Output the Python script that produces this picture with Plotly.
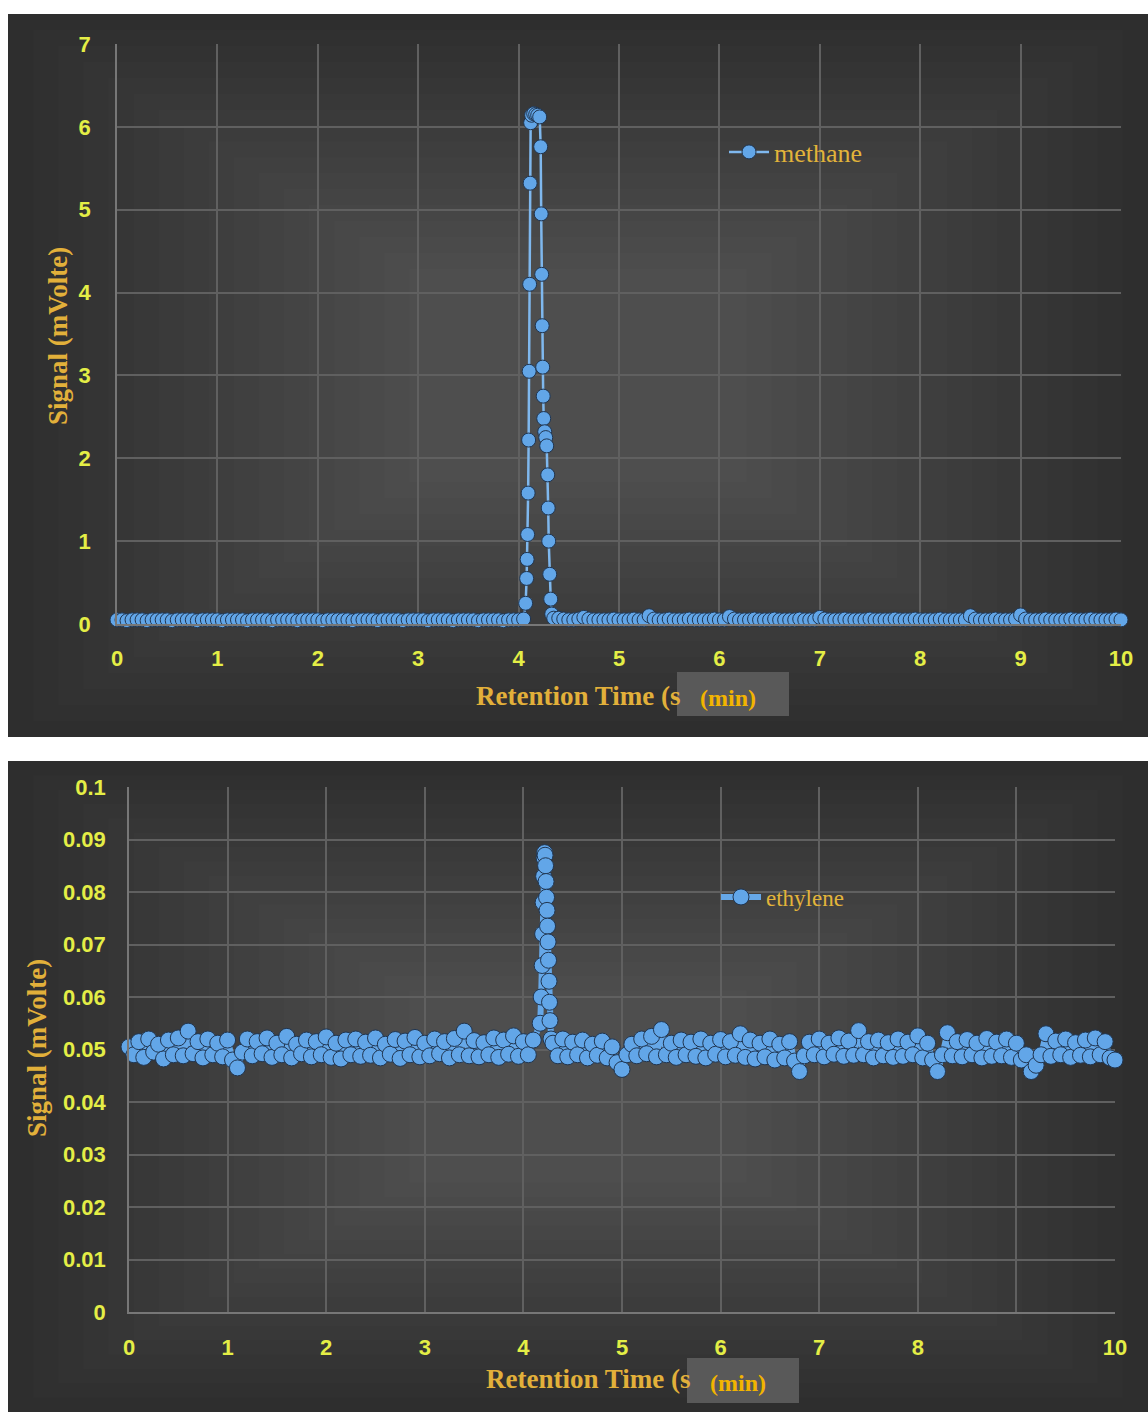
import plotly.graph_objects as go

W, H = 1148, 1412


def px(x):
    return x / W


def py(y):
    return 1 - y / H


# ---------------- data ----------------
methane_time_left = [round(i * 0.05, 2) for i in range(0, 81)]  # 0.00 .. 4.00
methane_signal_left = [
    0.05, 0.05, 0.04, 0.05, 0.05, 0.05, 0.04, 0.05, 0.05,
    0.05, 0.05, 0.04, 0.05, 0.05, 0.05, 0.05, 0.04, 0.05,
    0.05, 0.05, 0.05, 0.04, 0.05, 0.05, 0.05, 0.05, 0.04,
    0.05, 0.05, 0.05, 0.05, 0.04, 0.05, 0.05, 0.05, 0.05,
    0.04, 0.05, 0.05, 0.05, 0.05, 0.04, 0.05, 0.05, 0.05,
    0.05, 0.05, 0.04, 0.05, 0.05, 0.05, 0.05, 0.04, 0.05,
    0.05, 0.05, 0.05, 0.04, 0.05, 0.05, 0.05, 0.05, 0.04,
    0.05, 0.05, 0.05, 0.05, 0.04, 0.05, 0.05, 0.05, 0.05,
    0.04, 0.05, 0.05, 0.05, 0.05, 0.04, 0.05, 0.05, 0.05,
]
methane_time_peak = [
    4.05, 4.07, 4.08, 4.085, 4.09, 4.095, 4.10, 4.105, 4.11, 4.115,
    4.12, 4.13, 4.15, 4.17, 4.19, 4.21, 4.22, 4.225, 4.23, 4.235,
    4.24, 4.245, 4.25, 4.26, 4.27, 4.28, 4.29, 4.295, 4.30, 4.31,
    4.32, 4.33, 4.35,
]
methane_signal_peak = [
    0.06, 0.25, 0.55, 0.78, 1.08, 1.58, 2.22, 3.05, 4.10, 5.32,
    6.05, 6.14, 6.16, 6.15, 6.14, 6.12, 5.76, 4.95, 4.22, 3.60,
    3.10, 2.75, 2.48, 2.32, 2.25, 2.15, 1.80, 1.40, 1.00, 0.60,
    0.30, 0.12, 0.07,
]
methane_time_right = [round(4.4 + i * 0.05, 2) for i in range(0, 113)]  # 4.40 .. 10.00
methane_signal_right = [
    0.07, 0.06, 0.05, 0.05, 0.06, 0.08, 0.06, 0.05, 0.05, 0.05,
    0.05, 0.06, 0.05, 0.05, 0.05, 0.06, 0.05, 0.05, 0.10, 0.06,
    0.05, 0.05, 0.06, 0.05, 0.05, 0.05, 0.06, 0.05, 0.05, 0.05,
    0.05, 0.06, 0.05, 0.05, 0.09, 0.06, 0.05, 0.05, 0.05, 0.06,
    0.05, 0.05, 0.05, 0.06, 0.05, 0.05, 0.05, 0.05, 0.06, 0.05,
    0.05, 0.05, 0.08, 0.06, 0.05, 0.05, 0.05, 0.06, 0.05, 0.05,
    0.05, 0.05, 0.06, 0.05, 0.05, 0.05, 0.05, 0.06, 0.05, 0.05,
    0.05, 0.06, 0.05, 0.05, 0.05, 0.05, 0.06, 0.05, 0.05, 0.05,
    0.05, 0.05, 0.10, 0.06, 0.05, 0.05, 0.05, 0.06, 0.05, 0.05,
    0.05, 0.06, 0.11, 0.06, 0.05, 0.05, 0.05, 0.06, 0.05, 0.05,
    0.05, 0.05, 0.06, 0.05, 0.05, 0.05, 0.06, 0.05, 0.05, 0.05,
    0.05, 0.06, 0.05,
]

ethylene_time_left = [round(i * 0.05, 2) for i in range(0, 83)]  # 0.00 .. 4.10
ethylene_signal_left = [
    0.0505, 0.0490, 0.0515, 0.0485, 0.0520, 0.0495, 0.0510, 0.0482, 0.0518, 0.0490,
    0.0522, 0.0488, 0.0535, 0.0492, 0.0515, 0.0484, 0.0520, 0.0490, 0.0512, 0.0486,
    0.0518, 0.0480, 0.0465, 0.0495, 0.0520, 0.0488, 0.0515, 0.0492, 0.0522, 0.0485,
    0.0512, 0.0490, 0.0525, 0.0484, 0.0510, 0.0492, 0.0518, 0.0486, 0.0515, 0.0490,
    0.0524, 0.0485, 0.0512, 0.0482, 0.0518, 0.0490, 0.0520, 0.0487, 0.0514, 0.0489,
    0.0522, 0.0484, 0.0510, 0.0491, 0.0519, 0.0483, 0.0516, 0.0490, 0.0523, 0.0486,
    0.0512, 0.0488, 0.0520, 0.0492, 0.0515, 0.0484, 0.0521, 0.0490, 0.0535, 0.0488,
    0.0517, 0.0486, 0.0513, 0.0490, 0.0522, 0.0485, 0.0518, 0.0491, 0.0526, 0.0487,
    0.0515, 0.0490, 0.0518,
]
ethylene_time_peak = [
    4.17, 4.18, 4.19, 4.195, 4.20, 4.205, 4.21, 4.215, 4.22, 4.225,
    4.23, 4.235, 4.24, 4.245, 4.25, 4.255, 4.26, 4.265, 4.27, 4.28,
]
ethylene_signal_peak = [
    0.0550, 0.0600, 0.0660, 0.0720, 0.0780, 0.0830, 0.0865, 0.0875, 0.0870, 0.0850,
    0.0820, 0.0790, 0.0765, 0.0735, 0.0705, 0.0670, 0.0630, 0.0590, 0.0555, 0.0520,
]
ethylene_time_right = [round(4.3 + i * 0.05, 2) for i in range(0, 115)]  # 4.30 .. 10.00
ethylene_signal_right = [
    0.0512, 0.0488, 0.0520, 0.0486, 0.0514, 0.0490, 0.0518, 0.0484, 0.0510, 0.0489,
    0.0516, 0.0484, 0.0505, 0.0475, 0.0462, 0.0490, 0.0510, 0.0488, 0.0520, 0.0492,
    0.0525, 0.0486, 0.0538, 0.0490, 0.0512, 0.0485, 0.0518, 0.0490, 0.0514, 0.0487,
    0.0520, 0.0484, 0.0512, 0.0491, 0.0519, 0.0486, 0.0515, 0.0489, 0.0530, 0.0485,
    0.0518, 0.0482, 0.0512, 0.0486, 0.0520, 0.0480, 0.0510, 0.0484, 0.0515, 0.0478,
    0.0458, 0.0488, 0.0514, 0.0490, 0.0520, 0.0486, 0.0512, 0.0491, 0.0522, 0.0487,
    0.0516, 0.0489, 0.0536, 0.0490, 0.0515, 0.0484, 0.0518, 0.0488, 0.0513, 0.0485,
    0.0520, 0.0487, 0.0514, 0.0490, 0.0526, 0.0484, 0.0512, 0.0480, 0.0458, 0.0490,
    0.0532, 0.0488, 0.0515, 0.0486, 0.0519, 0.0490, 0.0512, 0.0484, 0.0521, 0.0487,
    0.0514, 0.0488, 0.0520, 0.0485, 0.0512, 0.0480, 0.0490, 0.0458, 0.0470, 0.0490,
    0.0530, 0.0487, 0.0516, 0.0490, 0.0520, 0.0485, 0.0513, 0.0489, 0.0518, 0.0486,
    0.0522, 0.0490, 0.0515, 0.0484, 0.0480,
]

top_x_ticks = [0, 1, 2, 3, 4, 5, 6, 7, 8, 9, 10]
top_y_ticks = [0, 1, 2, 3, 4, 5, 6, 7]
bottom_x_ticks = [0, 1, 2, 3, 4, 5, 6, 7, 8, 10]
bottom_y_ticks = [0, 0.01, 0.02, 0.03, 0.04, 0.05, 0.06, 0.07, 0.08, 0.09, 0.1]
bottom_y_labels = ["0", "0.01", "0.02", "0.03", "0.04", "0.05", "0.06", "0.07", "0.08", "0.09", "0.1"]

methane_time = methane_time_left + methane_time_peak + methane_time_right
methane_signal = methane_signal_left + methane_signal_peak + methane_signal_right
ethylene_time = ethylene_time_left + ethylene_time_peak + ethylene_time_right
ethylene_signal = ethylene_signal_left + ethylene_signal_peak + ethylene_signal_right

# ---------------- styles ----------------
TICK_FONT = dict(family="Liberation Sans", size=22, color="#e4ee46", weight="bold")
TITLE_FONT = dict(family="Liberation Serif", size=27, color="#e2b03a", weight="bold")
GRID = "#606060"

fig = go.Figure()
fig.add_trace(go.Scatter(
    x=methane_time, y=methane_signal, mode="lines+markers", name="methane",
    xaxis="x", yaxis="y", legend="legend",
    marker=dict(symbol="circle", size=14, color="#62a6e8", line=dict(color="#203550", width=1)),
    line=dict(color="#7fb8ee", width=2.5), cliponaxis=False,
))
fig.add_trace(go.Scatter(
    x=ethylene_time, y=ethylene_signal, mode="lines+markers", name="ethylene",
    xaxis="x2", yaxis="y2", legend="legend2",
    marker=dict(symbol="circle", size=16, color="#62a6e8", line=dict(color="#203550", width=1)),
    line=dict(color="#66a8e8", width=6), cliponaxis=False,
))

# ---------------- background panels (gradient approximation) ----------------
shapes = []
for (x0, y0, x1, y1) in [(8, 14, 1148, 737), (8, 761, 1148, 1412)]:
    shapes.append(dict(type="rect", xref="paper", yref="paper", layer="below",
                       x0=px(x0), x1=px(x1), y0=py(y1), y1=py(y0),
                       fillcolor="#2e2e2e", line=dict(width=0)))
    w, h = x1 - x0, y1 - y0
    for k in range(1, 17):
        ix, iy = w * 0.022 * k, h * 0.022 * k
        shapes.append(dict(type="rect", xref="paper", yref="paper", layer="below",
                           x0=px(x0 + ix), x1=px(x1 - ix), y0=py(y1 - iy), y1=py(y0 + iy),
                           fillcolor="rgba(255,255,255,0.012)", line=dict(width=0)))

# grey boxes carrying "(min)"
for (x0, y0, x1, y1) in [(677, 672, 789, 716), (687, 1358, 799, 1403)]:
    shapes.append(dict(type="rect", xref="paper", yref="paper", layer="above",
                       x0=px(x0), x1=px(x1), y0=py(y1), y1=py(y0),
                       fillcolor="#595959", line=dict(width=0)))

MIN_FONT = dict(family="Liberation Serif", size=24, color="#f2b400", weight="bold")
annotations = [
    dict(text="Retention Time (s", x=px(474), y=py(696), xanchor="left", yanchor="middle"),
    dict(text="(min)", x=px(728), y=py(698), xanchor="center", yanchor="middle", font=MIN_FONT),
    dict(text="Signal (mVolte)", x=px(58), y=py(336), xanchor="center", yanchor="middle", textangle=-90),
    dict(text="Retention Time (s", x=px(484), y=py(1379), xanchor="left", yanchor="middle"),
    dict(text="(min)", x=px(738), y=py(1383), xanchor="center", yanchor="middle", font=MIN_FONT),
    dict(text="Signal (mVolte)", x=px(37), y=py(1048), xanchor="center", yanchor="middle", textangle=-90),
]
for a in annotations:
    a.setdefault("font", TITLE_FONT)
    a.update(xref="paper", yref="paper", showarrow=False)

axis_common = dict(showgrid=True, gridcolor=GRID, gridwidth=2, zeroline=False,
                   showline=True, linecolor="#777777", linewidth=1.5, ticks="",
                   tickfont=TICK_FONT, fixedrange=True, automargin=False)

fig.update_layout(
    width=W, height=H,
    margin=dict(l=0, r=0, t=0, b=0, pad=0, autoexpand=False),
    paper_bgcolor="#ffffff",
    plot_bgcolor="rgba(0,0,0,0)",
    shapes=shapes,
    annotations=annotations,
    xaxis=dict(domain=[px(117), px(1121)], range=[0, 10], anchor="y",
               tickvals=top_x_ticks, ticklabelstandoff=14, **axis_common),
    yaxis=dict(domain=[py(624), py(44)], range=[0, 7], anchor="x",
               tickvals=top_y_ticks, ticklabelstandoff=20, **axis_common),
    xaxis2=dict(domain=[px(129), px(1115)], range=[0, 10], anchor="y2",
                tickvals=bottom_x_ticks, ticklabelstandoff=15,
                minor=dict(tickvals=[9], showgrid=True, gridcolor=GRID, gridwidth=2),
                **axis_common),
    yaxis2=dict(domain=[py(1312), py(787)], range=[0, 0.1], anchor="x2",
                tickvals=bottom_y_ticks, ticktext=bottom_y_labels, ticklabelstandoff=17,
                **axis_common),
    legend=dict(x=px(724), y=py(152), xanchor="left", yanchor="middle",
                bgcolor="rgba(0,0,0,0)", borderwidth=0, itemwidth=40,
                font=dict(family="Liberation Serif", size=26, color="#e2b43a")),
    legend2=dict(x=px(716), y=py(897), xanchor="left", yanchor="middle",
                 bgcolor="rgba(0,0,0,0)", borderwidth=0, itemwidth=40,
                 font=dict(family="Liberation Serif", size=23, color="#e2b43a")),
    showlegend=True,
)

fig.write_html("out.html", config={"displayModeBar": False},
               post_script="document.body.style.margin='0';")
